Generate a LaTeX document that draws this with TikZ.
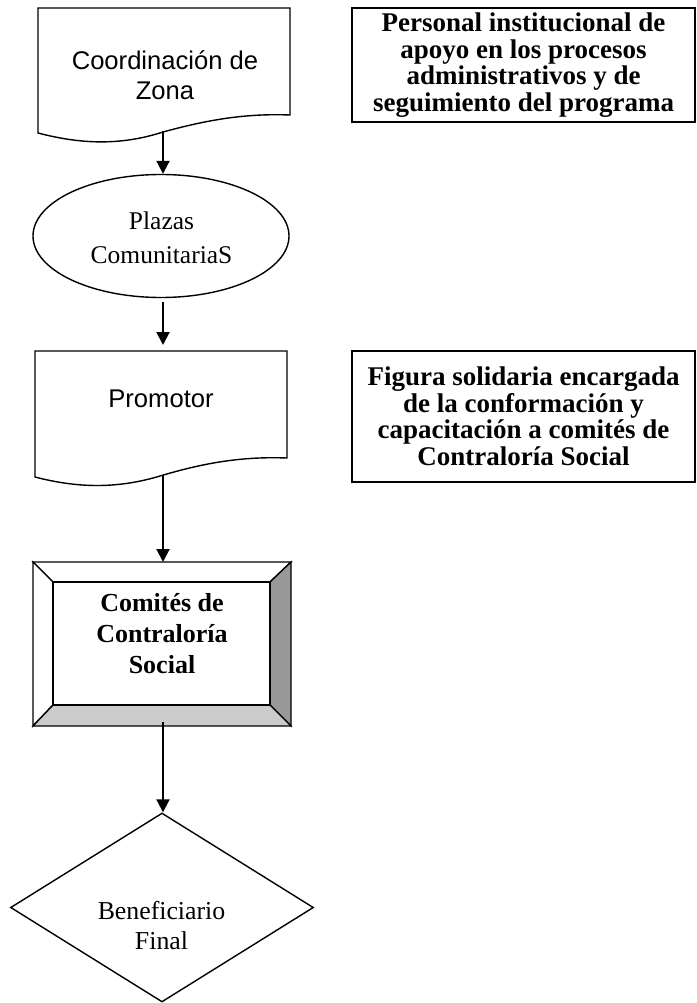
\documentclass[tikz,border=0pt]{standalone}
\usepackage{fontspec}
\setmainfont{Liberation Serif}
\newfontfamily\arialfont{Liberation Sans}
\usetikzlibrary{arrows.meta,shapes.geometric}
\definecolor{bevdark}{RGB}{153,153,153}
\definecolor{bevlight}{RGB}{204,204,204}
\tikzset{
  shapeline/.style={draw=black, line width=1.4pt},
  flowarrow/.style={line width=2pt, -{Triangle[length=13pt,width=13pt]}},
  notebox/.style={draw=black, line width=2pt, rectangle, minimum width=343pt, inner sep=0pt, align=center,
     font=\fontsize{27}{26.5}\selectfont\bfseries},
  doctext/.style={align=center, font=\arialfont\fontsize{25.6}{29.5}\selectfont, inner sep=0pt},
  serftext/.style={align=center, font=\fontsize{25.5}{34}\selectfont, inner sep=0pt},
}
\begin{document}
\begin{tikzpicture}[x=1pt,y=-1pt]
\useasboundingbox (0,0) rectangle (696,1003);
\fill[white] (0,0) rectangle (696,1003);

% Document 1: Coordinacion de Zona
\draw[shapeline] (38,8) -- (290,8) -- (290,115)
   .. controls (240,113) and (200,122) .. (163,132)
   .. controls (120,146) and (80,144) .. (38,133) -- cycle;
\coordinate (d1b) at (163,131);
\node[doctext] (d1) at (165,75) {Coordinación de\\Zona};

% Ellipse: Plazas Comunitarias
\node[shapeline, ellipse, minimum width=256pt, minimum height=123pt, inner sep=0pt] (pl) at (161,236) {};
\node[serftext] (plt) at (161.5,238) {Plazas\\ComunitariaS};

% Document 2: Promotor
\draw[shapeline] (35,351) -- (287,351) -- (287,458)
   .. controls (237,456) and (197,465) .. (160,476)
   .. controls (117,489) and (77,488) .. (35,477) -- cycle;
\coordinate (d2b) at (163,475);
\coordinate (d2t) at (163,351);
\node[doctext] (d2) at (161,399) {Promotor};

% Bevel box: Comites
\draw[shapeline, fill=white] (33,562) -- (291,562) -- (270,582) -- (53,582) -- cycle;
\draw[shapeline, fill=white] (33,562) -- (53,582) -- (53,705) -- (33,726) -- cycle;
\draw[shapeline, fill=bevdark] (291,562) -- (291,726) -- (270,705) -- (270,582) -- cycle;
\draw[shapeline, fill=bevlight] (33,726) -- (291,726) -- (270,705) -- (53,705) -- cycle;
\node[shapeline, rectangle, minimum width=217pt, minimum height=123pt, inner sep=0pt] (com) at (161.5,643.5) {};
\node[align=center, inner sep=0pt, font=\fontsize{26}{31}\selectfont\bfseries] (comt) at (162,634) {Comités de\\Contraloría\\Social};
\coordinate (bevtop) at (163,562);
\coordinate (bevbot) at (163,722);

% Diamond: Beneficiario Final
\node[shapeline, diamond, minimum width=303pt, minimum height=189pt, inner sep=0pt] (ben) at (162,907.5) {};
\node[serftext, font=\fontsize{25.8}{30}\selectfont] (bent) at (161.5,926) {Beneficiario\\Final};

% Right boxes
\node[notebox, minimum height=114pt] (n1) at (523.5,65) {Personal institucional de\\apoyo en los procesos\\administrativos y de\\seguimiento del programa};
\node[notebox, minimum height=131pt] (n2) at (523.5,416.5) {Figura solidaria encargada\\de la conformación y\\capacitación a comités de\\Contraloría Social};

% Arrows
\draw[flowarrow] (d1b) -- (d1b |- pl.north);
\draw[flowarrow, shorten <=4pt, shorten >=6pt] (d1b |- pl.south) -- (d2t);
\draw[flowarrow] (d2b) -- (bevtop);
\draw[flowarrow] (bevbot) -- (bevbot |- ben.north);
\end{tikzpicture}
\end{document}
